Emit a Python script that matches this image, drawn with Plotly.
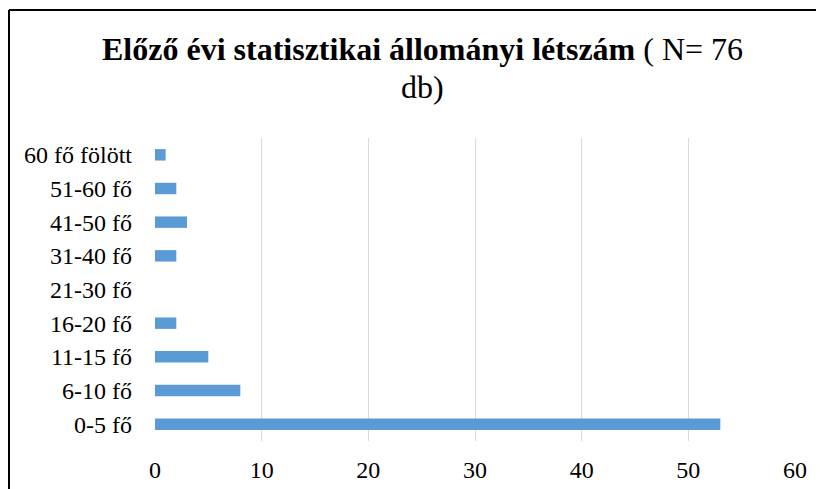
import plotly.graph_objects as go

categories = ['0-5 fő', '6-10 fő', '11-15 fő', '16-20 fő', '21-30 fő',
              '31-40 fő', '41-50 fő', '51-60 fő', '60 fő fölött']
counts = [53, 8, 5, 2, 0, 2, 3, 2, 1]
x_ticks = [0, 10, 20, 30, 40, 50, 60]

serif = 'Liberation Serif, Times New Roman, serif'

fig = go.Figure(go.Bar(x=counts, y=categories, orientation='h',
                       marker=dict(color='#5b9bd5', line=dict(width=0))))

# the page body has an 8px margin, so the figure is 816x481 and
# all page pixel positions below are shifted by 8
off = 8
W, H = 824 - off, 489 - off
pl, pw, pt, ph = 155 - off, 640, 138 - off, 303
px = lambda v: (v - off - pl) / pw
py = lambda v: (pt + ph - (v - off)) / ph

fig.update_layout(
    width=W, height=H,
    margin=dict(l=pl, r=W - pl - pw, t=pt, b=H - pt - ph),
    paper_bgcolor='white', plot_bgcolor='white',
    font=dict(family=serif, size=24, color='black'),
    bargap=0.66,
    showlegend=False,
    xaxis=dict(range=[0, 60], tickvals=x_ticks, showgrid=True,
               gridcolor='#d9d9d9', gridwidth=1.3, zeroline=False,
               showline=False, ticks='', ticklabelstandoff=12,
               automargin=False, fixedrange=True),
    yaxis=dict(showgrid=False, zeroline=False, showline=False, ticks='',
               ticklabelstandoff=22, automargin=False, fixedrange=True),
    annotations=[
        dict(text='<b>Előző évi statisztikai állományi létszám</b> ( N= 76',
             x=px(422), y=py(49), xref='paper', yref='paper',
             xanchor='center', yanchor='middle', showarrow=False,
             font=dict(family=serif, size=32, color='black')),
        dict(text='db)', x=px(422), y=py(87), xref='paper', yref='paper',
             xanchor='center', yanchor='middle', showarrow=False,
             font=dict(family=serif, size=32, color='black')),
    ],
    shapes=[
        dict(type='line', xref='paper', yref='paper', x0=px(9), x1=px(9),
             y0=py(10), y1=py(489), line=dict(color='black', width=2)),
        dict(type='line', xref='paper', yref='paper', x0=px(9), x1=px(824),
             y0=py(10), y1=py(10), line=dict(color='black', width=2)),
    ],
)

fig.write_html('out.html')
